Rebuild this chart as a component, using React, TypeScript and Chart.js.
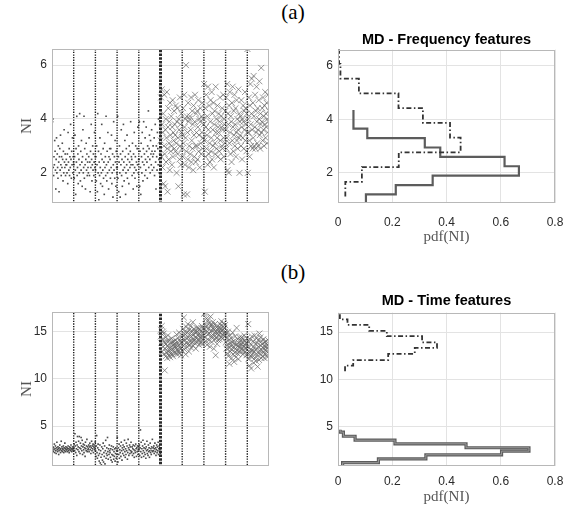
import React, { useEffect, useRef } from "react";
import { Chart, registerables } from "chart.js";
Chart.register(...registerables);

// ---------- data ----------
const segmentBoundaries = [1, 2, 3, 4, 5, 6, 7, 8, 9];
const freqTicksY = [2, 4, 6];
const timeTicksY = [5, 10, 15];
const pdfTicksX = [0, 0.2, 0.4, 0.6, 0.8];

// (a) frequency features: class 1 (dots, samples 0-5) and class 2 (crosses, samples 5-10)
// one row per segment between the dotted boundaries
const freqClass1 = [
  2.4,3.9,4.0,2.2,1.9,2.6,2.3,3.2,2.8,2.1,1.4,2.5,3.3,2.0,2.7,2.2,1.8,3.0,2.4,1.3,2.6,2.9,2.1,3.4,2.3,1.9,2.6,2.2,3.1,2.5,1.7,2.8,2.0,3.6,2.4,2.2,2.7,1.9,2.3,2.5,2.3,2.0,2.7,1.6,3.5,2.4,2.1,2.9,1.9,2.6,2.2,3.8,2.5,1.8,2.8,2.3,3.3,2.0,2.6,2.4,
  2.3,1.8,2.6,3.4,2.1,1.2,2.9,2.4,4.1,1.9,2.2,2.7,1.6,3.0,2.5,2.0,4.2,2.3,1.7,2.8,2.1,3.2,2.4,1.5,2.6,3.6,2.0,2.2,4.1,1.8,2.9,2.3,1.4,2.5,3.1,2.1,2.7,1.9,2.4,2.2,2.0,2.6,3.3,1.9,2.4,1.3,2.8,2.2,3.8,2.5,1.7,2.3,3.0,2.1,2.7,1.9,2.4,3.5,2.2,2.6,
  2.1,2.6,1.7,3.0,2.3,1.3,4.2,2.0,2.8,1.0,2.4,1.9,3.3,2.2,1.6,2.7,2.0,3.8,2.5,1.5,2.1,2.9,1.8,2.4,1.2,3.1,2.2,2.6,1.9,4.1,2.3,1.7,2.8,2.0,3.5,2.4,1.4,2.6,2.1,2.9,2.5,1.8,2.9,2.2,3.4,1.6,2.0,2.7,1.1,2.3,3.9,2.1,2.6,1.8,3.2,2.4,1.5,2.8,2.2,2.0,
  2.2,4.1,1.8,2.6,1.3,2.4,3.0,2.0,1.1,2.7,2.3,3.6,1.9,2.5,1.5,2.8,2.1,3.8,2.4,1.7,2.2,3.2,2.6,1.2,2.0,2.9,2.3,3.4,1.8,2.5,2.1,2.7,1.6,3.0,2.4,2.2,2.8,3.9,2.3,2.6,2.5,1.9,3.1,2.3,1.4,2.7,2.0,3.5,2.2,1.8,2.6,3.0,2.1,2.4,1.5,2.9,2.3,3.7,2.0,2.5,
  2.5,3.9,1.5,2.8,2.2,1.2,3.1,2.6,2.0,3.5,2.4,1.7,2.9,3.9,2.3,2.7,1.9,3.3,2.5,2.1,3.7,2.8,2.4,1.8,3.0,2.6,4.3,2.2,2.9,3.4,2.5,2.0,3.2,2.7,2.3,3.6,2.8,2.1,2.6,3.0,2.7,2.2,3.3,1.9,2.8,3.8,2.4,1.4,3.0,2.6,2.1,3.5,2.9,2.3,4.0,2.5,2.0,3.1,2.7,3.4,
];
const freqClass2 = [
  3.2,4.8,2.6,5.1,3.8,2.2,3.5,4.2,1.6,3.0,4.9,2.7,1.5,3.6,4.0,2.4,3.3,5.0,2.9,1.3,3.7,4.4,2.5,3.1,3.9,2.1,4.6,3.4,2.8,4.1,3.0,2.3,3.7,4.7,2.6,3.5,3.2,4.3,2.9,3.8,3.4,2.8,4.5,3.1,2.0,3.9,4.4,2.7,3.3,1.5,4.0,3.6,2.5,4.8,3.0,3.8,2.3,4.2,3.5,2.9,
  3.4,2.6,4.4,3.1,1.2,4.9,3.7,2.3,4.0,3.3,6.0,2.8,4.1,1.2,3.5,2.5,4.6,3.9,2.2,3.0,4.0,4.1,2.7,3.6,4.8,2.4,3.2,4.3,2.9,3.8,2.1,4.5,3.4,2.6,3.9,4.9,3.0,2.4,4.2,3.5,3.0,4.3,2.5,3.7,4.7,2.8,3.4,4.0,2.2,3.9,4.4,3.1,2.7,4.1,3.5,4.6,2.9,3.3,4.0,3.8,
  5.3,3.2,1.3,4.4,2.6,3.7,4.9,2.9,3.4,4.1,2.3,5.2,3.6,2.7,4.5,3.1,2.4,3.9,4.7,2.8,3.3,5.0,2.5,4.2,3.6,3.0,4.6,2.2,3.8,4.3,3.1,2.7,5.2,3.5,4.0,2.9,3.3,4.5,2.6,3.7,3.5,4.2,2.8,3.9,4.8,3.2,2.5,4.1,3.7,3.0,4.4,2.9,3.6,4.9,3.3,2.6,4.0,3.8,3.1,4.3,
  3.6,4.8,2.9,3.3,5.3,2.1,4.2,3.8,2.0,4.5,3.1,5.0,3.5,2.7,4.1,3.9,2.4,4.6,3.2,5.2,3.7,2.8,4.3,3.4,4.9,3.0,3.8,4.4,2.6,3.5,4.7,3.2,4.0,2.9,3.6,5.1,3.3,4.2,2.0,3.9,3.4,4.1,3.0,4.7,3.7,2.5,4.0,3.3,4.5,3.9,2.9,4.3,3.6,5.0,3.2,4.4,3.8,2.8,4.2,3.5,
  6.6,2.0,4.0,3.5,4.8,3.2,2.6,4.5,5.3,3.8,3.0,4.2,5.5,3.6,2.9,4.6,3.3,5.6,4.1,3.0,3.7,4.9,2.9,4.3,3.5,5.2,3.9,3.1,4.4,3.6,3.0,4.7,4.0,5.4,3.4,2.9,4.2,3.8,5.9,3.5,3.9,4.4,3.2,4.8,3.6,4.1,3.0,4.5,3.8,5.0,3.3,4.2,3.7,4.6,3.1,4.0,3.5,4.9,3.9,4.3,
];

// (b) time features
const timeClass1 = [
  2.6,2.4,2.8,2.3,2.7,2.5,3.1,2.2,2.6,2.9,2.4,2.1,2.7,3.3,2.5,2.3,2.8,2.6,2.0,2.4,2.7,3.0,2.5,2.2,2.6,3.4,2.4,2.8,2.3,2.6,2.5,2.9,2.2,2.7,2.4,3.2,2.6,2.3,2.8,2.5,2.5,2.7,2.3,2.6,2.9,2.4,2.6,2.2,2.8,2.5,2.7,2.4,3.0,2.6,2.3,2.5,2.8,2.6,2.4,2.7,
  2.7,3.1,2.4,4.2,2.9,2.2,3.3,2.6,1.9,3.0,3.9,2.5,2.8,3.4,2.3,3.9,2.7,2.1,3.2,2.6,3.8,2.9,2.4,3.5,2.0,2.8,3.1,2.5,2.2,3.0,2.7,1.8,3.3,2.6,2.4,2.9,3.6,2.3,2.8,2.5,2.6,3.0,2.3,2.8,3.2,2.5,2.9,2.1,2.7,3.4,2.4,2.9,2.6,3.1,2.2,2.8,3.0,2.5,2.7,3.3,
  2.4,1.8,2.9,4.0,2.2,1.6,2.7,3.1,1.9,2.5,1.3,2.1,3.0,1.1,2.4,1.7,0.9,2.8,2.0,1.4,2.6,3.2,1.2,2.2,1.8,2.9,1.0,2.4,3.5,1.6,2.1,2.7,1.9,3.8,2.3,1.5,2.6,2.0,3.0,2.4,2.2,1.7,2.6,1.4,2.9,2.0,1.2,2.5,1.9,2.8,1.5,2.3,1.8,2.6,1.3,2.1,2.7,1.6,2.4,2.0,
  3.8,2.4,1.2,2.7,2.0,3.1,1.6,2.5,2.2,2.9,1.8,3.3,2.4,1.4,2.7,2.1,3.0,2.5,1.9,2.8,3.5,2.3,1.7,2.6,2.0,3.2,2.4,2.9,1.5,2.2,3.6,2.7,1.9,2.5,3.0,2.1,2.8,2.4,3.3,2.2,2.3,2.8,1.9,2.6,3.0,2.1,2.5,1.7,2.9,2.4,2.2,3.1,2.6,1.8,2.7,2.3,2.9,2.0,2.5,2.8,
  2.5,3.0,1.9,2.7,4.6,2.3,3.3,1.7,2.6,2.1,2.9,3.5,2.4,1.8,2.7,2.2,3.1,2.0,2.6,1.6,2.8,2.4,3.4,2.1,2.5,1.9,3.0,2.3,2.7,1.7,2.4,3.2,2.2,2.6,2.0,2.8,2.4,3.6,2.3,2.7,2.4,2.9,2.1,2.6,3.2,2.3,2.7,1.9,2.5,3.0,2.2,2.8,2.4,3.3,2.0,2.6,2.9,2.3,2.5,2.1,
];
const timeClass2 = [
  14.5,15.2,13.8,15.6,12.9,14.2,15.0,13.4,14.8,12.6,13.9,10.9,13.2,14.4,12.4,13.7,12.8,14.0,12.2,13.5,14.6,12.9,13.3,12.5,14.1,13.0,12.3,13.8,12.7,13.4,14.3,12.6,13.1,13.9,12.4,13.6,14.0,12.8,13.3,13.7,13.5,14.1,12.8,13.3,14.7,12.6,13.9,13.1,14.3,12.9,13.6,14.9,12.7,13.4,14.0,13.2,12.5,13.8,14.4,13.0,
  13.9,14.6,15.3,13.5,16.5,14.2,13.1,15.0,14.7,12.6,13.8,15.5,14.3,13.4,14.9,15.8,13.7,14.4,12.9,15.2,14.0,13.6,14.8,15.6,13.3,14.5,15.1,13.9,14.2,16.0,13.5,14.7,15.3,14.1,13.8,15.0,14.4,13.2,14.9,15.4,14.3,15.0,13.9,14.6,15.4,14.1,13.6,14.8,15.2,14.4,13.8,15.1,14.5,14.0,15.6,14.2,13.7,14.9,15.3,14.6,
  16.9,15.2,14.4,17.0,15.8,14.0,15.5,16.4,13.6,15.0,14.7,16.2,15.3,14.1,15.9,14.8,13.4,15.6,16.6,14.5,15.1,13.9,15.7,14.3,16.0,15.4,14.6,13.2,15.2,14.9,15.8,14.2,12.5,15.0,14.4,15.5,13.7,14.8,15.3,14.1,15.0,14.6,15.5,14.2,15.8,14.9,15.3,14.4,16.1,15.1,14.7,15.6,14.3,15.2,15.9,14.8,15.4,14.5,15.7,15.0,
  13.9,14.8,13.2,14.4,12.7,13.6,15.0,12.4,14.1,13.3,11.6,13.8,14.6,12.9,13.5,14.3,12.2,13.1,13.9,14.9,12.6,13.4,14.0,11.8,13.7,12.8,14.5,13.2,12.3,13.6,15.4,13.0,12.7,14.2,13.5,12.1,13.8,12.9,14.4,13.3,13.5,14.1,12.9,13.7,14.4,13.2,13.9,12.6,14.2,13.4,13.0,14.6,13.6,12.8,14.0,13.3,13.8,12.5,14.3,13.1,
  12.6,13.4,15.8,12.1,13.9,11.4,12.8,14.2,13.1,12.4,11.1,13.6,14.5,12.3,13.0,12.7,14.0,11.7,13.3,12.9,14.6,12.2,13.7,11.9,13.2,14.3,12.5,13.8,11.3,12.8,14.1,13.4,12.0,14.8,13.0,12.6,14.4,13.5,12.2,14.0,13.0,13.7,12.4,13.3,14.2,12.8,13.5,12.2,13.9,13.1,12.6,14.0,13.4,12.9,13.6,12.3,13.2,14.1,12.7,13.5,
];

// histograms (pdf of NI): bin edges and pdf per bin
const freqC1Edges = [0.86, 1.2, 1.55, 1.9, 2.25, 2.6, 2.95, 3.3, 3.65, 4.0, 4.35];
const freqC1Pdf = [0.103, 0.213, 0.349, 0.667, 0.614, 0.377, 0.32, 0.108, 0.057, 0.057];
const freqC2Edges = [1.12, 1.67, 2.22, 2.77, 3.32, 3.87, 4.42, 4.97, 5.52, 6.07, 6.62];
const freqC2Pdf = [0.027, 0.088, 0.224, 0.452, 0.413, 0.313, 0.223, 0.077, 0.009, 0.004];
const timeC1Edges = [0.75, 1.13, 1.53, 1.97, 2.36, 2.72, 3.14, 3.52, 3.94, 4.38, 4.62];
const timeC1Pdf = [0.017, 0.149, 0.324, 0.603, 0.704, 0.472, 0.21, 0.063, 0.02, 0.008];
const timeC2Edges = [10.84, 11.44, 12.04, 12.7, 13.34, 13.92, 14.57, 15.14, 15.77, 16.37, 16.9];
const timeC2Pdf = [0.026, 0.056, 0.185, 0.283, 0.365, 0.31, 0.18, 0.115, 0.035, 0.007];

// ---------- helpers ----------
const SANS = "'Liberation Sans', Arial, sans-serif";
const SERIF = "'Liberation Serif', 'Times New Roman', serif";
const GRID = "#e3e3e3";
const TICK_COLOR = "#2b2b2b";

const boxPlugin = {
  id: "box",
  afterDraw(chart: any) {
    const { ctx, chartArea } = chart;
    const { left, top, right, bottom } = chartArea;
    ctx.save();
    ctx.strokeStyle = "#b8b8b8";
    ctx.lineWidth = 1;
    ctx.strokeRect(Math.round(left) + 0.5, Math.round(top) + 0.5, Math.round(right - left) - 1, Math.round(bottom - top) - 1);
    ctx.restore();
  },
};

function toStairs(edges: number[], pdf: number[]) {
  const pts: { x: number; y: number }[] = [];
  pdf.forEach((p, i) => {
    pts.push({ x: p, y: edges[i] });
    pts.push({ x: p, y: edges[i + 1] });
  });
  return pts;
}

function yScale(min: number, max: number, ticks: number[], width: number, withTitle: boolean) {
  return {
    type: "linear",
    min,
    max,
    afterBuildTicks: (s: any) => {
      s.ticks = ticks.map((v) => ({ value: v }));
    },
    afterFit: (s: any) => {
      s.width = width;
      s.paddingTop = 0;
      s.paddingBottom = 0;
    },
    ticks: { font: { family: SANS, size: 12 }, color: TICK_COLOR, padding: 5, callback: (v: any) => String(v) },
    grid: { color: GRID, drawTicks: false },
    border: { display: false },
    title: withTitle
      ? { display: true, text: "NI", font: { family: SERIF, size: 15 }, color: "#555", padding: { top: 18, bottom: 0 } }
      : { display: false },
  };
}

function scatterConfig(c1: number[], c2: number[], yMin: number, yMax: number, ticks: number[], pad: any) {
  const dots = c1.map((v, i) => ({ x: (5 * (i + 0.5)) / c1.length, y: v }));
  const crosses = c2.map((v, i) => ({ x: 5 + (5 * (i + 0.5)) / c2.length, y: v }));
  const lines = segmentBoundaries.map((b) => ({
    data: [
      { x: b, y: yMin - 1 },
      { x: b, y: yMax + 1 },
    ],
    showLine: true,
    borderColor: b === 5 ? "#2a2a2a" : "#1c1c1c",
    borderWidth: b === 5 ? 3 : 1.4,
    borderDash: b === 5 ? [2.5, 1.2] : [1.3, 1.3],
    pointRadius: 0,
    clip: 0,
    order: 0,
  }));
  return {
    type: "scatter",
    data: {
      datasets: [
        ...lines,
        {
          data: crosses,
          pointStyle: "crossRot",
          pointRadius: 4.2,
          borderColor: "rgba(100,100,100,0.75)",
          backgroundColor: "rgba(100,100,100,0.75)",
          borderWidth: 0.9,
          clip: 0,
          order: 1,
        },
        {
          data: dots,
          pointStyle: "rect",
          pointRadius: 1.15,
          backgroundColor: "#4a4a4a",
          borderWidth: 0,
          clip: 0,
          order: 2,
        },
      ],
    },
    options: {
      animation: false,
      responsive: false,
      events: [],
      layout: { padding: pad },
      plugins: { legend: { display: false }, tooltip: { enabled: false }, title: { display: false } },
      scales: {
        x: { type: "linear", min: 0, max: 10, display: false },
        y: yScale(yMin, yMax, ticks, 52, true),
      },
    },
    plugins: [boxPlugin],
  };
}

function histConfig(
  title: string,
  c1Edges: number[],
  c1Pdf: number[],
  c2Edges: number[],
  c2Pdf: number[],
  yMin: number,
  yMax: number,
  ticks: number[],
  titlePad: any,
  xHeight: number,
  xTickPad: number,
  xTitleBottom: number,
  hollow: boolean
) {
  const solid = toStairs(c1Edges, c1Pdf);
  const dash = toStairs(c2Edges, c2Pdf);
  const datasets: any[] = [
    {
      data: dash,
      showLine: true,
      borderColor: "#333",
      borderWidth: 1.8,
      borderDash: [5, 2.5, 1.5, 2.5],
      pointRadius: 0,
      clip: 0,
      order: 1,
    },
    {
      data: solid,
      showLine: true,
      borderColor: "#5c5c5c",
      borderWidth: hollow ? 3.2 : 2.2,
      pointRadius: 0,
      clip: 0,
      order: 2,
    },
  ];
  if (hollow) {
    datasets.push({
      data: solid,
      showLine: true,
      borderColor: "#9a9a9a",
      borderWidth: 1,
      pointRadius: 0,
      clip: 0,
      order: 0,
    });
  }
  return {
    type: "scatter",
    data: { datasets },
    options: {
      animation: false,
      responsive: false,
      events: [],
      layout: { padding: { left: 0, right: 14, top: 0, bottom: 0 } },
      plugins: {
        legend: { display: false },
        tooltip: { enabled: false },
        title: {
          display: true,
          fullSize: false,
          text: title,
          color: "#000",
          font: { family: SANS, size: 14.5, weight: "bold" },
          padding: titlePad,
        },
      },
      scales: {
        x: {
          type: "linear",
          min: 0,
          max: 0.8,
          afterBuildTicks: (s: any) => {
            s.ticks = pdfTicksX.map((v) => ({ value: v }));
          },
          afterFit: (s: any) => {
            s.height = xHeight;
            s.paddingLeft = 0;
            s.paddingRight = 0;
          },
          ticks: {
            font: { family: SANS, size: 12 },
            color: TICK_COLOR,
            padding: xTickPad,
            maxRotation: 0,
            callback: (v: any) => String(Math.round(v * 10) / 10),
          },
          grid: { color: GRID, drawTicks: false },
          border: { display: false },
          title: {
            display: true,
            text: "pdf(NI)",
            font: { family: SERIF, size: 15 },
            color: "#555",
            padding: { top: 0, bottom: xTitleBottom },
          },
        },
        y: yScale(yMin, yMax, ticks, 48, false),
      },
    },
    plugins: [boxPlugin],
  };
}

function ChartCanvas({ config, left, top, width, height }: any) {
  const ref = useRef<HTMLCanvasElement>(null);
  useEffect(() => {
    const chart = new Chart(ref.current as HTMLCanvasElement, config);
    return () => chart.destroy();
  }, []);
  return (
    <canvas
      ref={ref}
      width={width}
      height={height}
      style={{ position: "absolute", left, top, width, height }}
    />
  );
}

const labelStyle: any = {
  position: "absolute",
  width: 60,
  left: 263,
  textAlign: "center",
  fontFamily: SERIF,
  fontSize: 21,
  lineHeight: "21px",
  color: "#000",
};

export default function App() {
  return (
    <div style={{ position: "absolute", left: 0, top: 0, width: 569, height: 506, background: "#fff", overflow: "hidden" }}>
      <div style={{ ...labelStyle, top: 2 }}>(a)</div>
      <div style={{ ...labelStyle, top: 262 }}>(b)</div>
      <ChartCanvas
        left={0}
        top={40}
        width={280}
        height={175}
        config={scatterConfig(freqClass1, freqClass2, 0.88, 6.6, freqTicksY, { left: 0, right: 11, top: 9, bottom: 12 })}
      />
      <ChartCanvas
        left={290}
        top={20}
        width={279}
        height={236}
        config={histConfig(
          "MD - Frequency features",
          freqC1Edges, freqC1Pdf, freqC2Edges, freqC2Pdf,
          0.88, 6.6, freqTicksY,
          { top: 11.6, bottom: 0.6 }, 53, 12, 10, false
        )}
      />
      <ChartCanvas
        left={0}
        top={300}
        width={280}
        height={175}
        config={scatterConfig(timeClass1, timeClass2, 0.78, 17.08, timeTicksY, { left: 0, right: 11, top: 12, bottom: 9 })}
      />
      <ChartCanvas
        left={290}
        top={276}
        width={279}
        height={230}
        config={histConfig(
          "MD - Time features",
          timeC1Edges, timeC1Pdf, timeC2Edges, timeC2Pdf,
          0.78, 17.08, timeTicksY,
          { top: 16.6, bottom: 2.6 }, 40, 8, 0, true
        )}
      />
    </div>
  );
}
